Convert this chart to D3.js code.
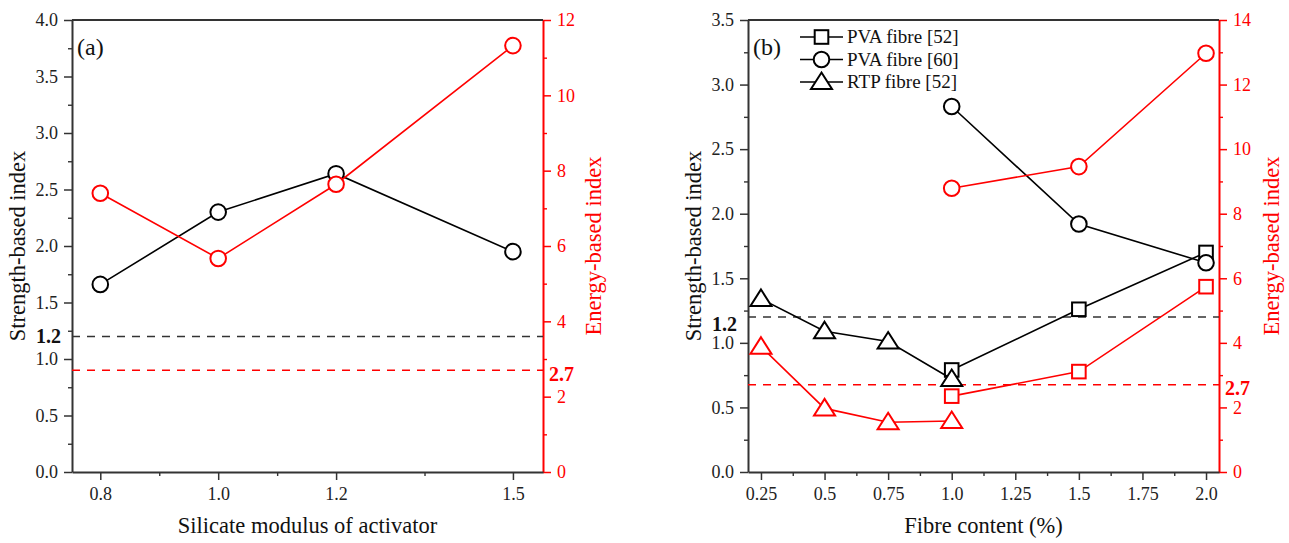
<!DOCTYPE html>
<html>
<head>
<meta charset="utf-8">
<script src="https://cdn.jsdelivr.net/npm/d3@7"></script>
<style>
  body { margin: 0; background: #fff; }
  svg text { font-family: "Liberation Serif", "Times New Roman", Times, serif; }
</style>
</head>
<body>
<svg id="chart" width="1289" height="543"></svg>
<script>
// panel (a): silicate modulus
const modulus = [0.8, 1.0, 1.2, 1.5];
const modStrength = [1.66, 2.30, 2.64, 1.95];
const modEnergy = [7.40, 5.67, 7.64, 11.32];

// panel (b): fibre content
const pva52Content = [1.0, 1.5, 2.0];
const pva52Strength = [0.79, 1.26, 1.70];
const pva52Energy = [2.35, 3.11, 5.74];

const pva60Content = [1.0, 1.5, 2.0];
const pva60Strength = [2.83, 1.92, 1.62];
const pva60Energy = [8.79, 9.46, 12.97];

const rtpContent = [0.25, 0.5, 0.75, 1.0];
const rtpStrength = [1.34, 1.09, 1.01, 0.72];
const rtpEnergy = [3.88, 1.97, 1.54, 1.58];

const legendNames = ['PVA fibre [52]', 'PVA fibre [60]', 'RTP fibre [52]'];
const strengthLimit = 1.2;
const energyLimit = 2.7;

const RED = '#ff0000';
const svg = d3.select('#chart');

// marker painter
function drawMarker(g, shape, x, y, color) {
  if (shape === 'circle') {
    g.append('circle').attr('cx', x).attr('cy', y).attr('r', 7.8)
      .attr('fill', '#fff').attr('stroke', color).attr('stroke-width', 2);
  } else if (shape === 'square') {
    g.append('rect').attr('x', x - 6.8).attr('y', y - 6.8).attr('width', 13.6).attr('height', 13.6)
      .attr('fill', '#fff').attr('stroke', color).attr('stroke-width', 2);
  } else {
    g.append('path').attr('d', `M${x},${y - 9.5}L${x + 10.5},${y + 7}L${x - 10.5},${y + 7}Z`)
      .attr('fill', '#fff').attr('stroke', color).attr('stroke-width', 2);
  }
}

function drawSeries(g, xs, ys, xScale, yScale, shape, color) {
  const line = d3.line().x((d, i) => xScale(xs[i])).y(d => yScale(d));
  g.append('path').datum(ys).attr('d', line)
    .attr('fill', 'none').attr('stroke', color).attr('stroke-width', 1.6);
  ys.forEach((v, i) => drawMarker(g, shape, xScale(xs[i]), yScale(v), color));
}

function drawPanel(p) {
  const g = svg.append('g');
  const x = d3.scaleLinear().domain(p.xDomain).range([p.left, p.right]);
  const yL = d3.scaleLinear().domain([0, p.yLMax]).range([p.bottom, p.top]);
  const yR = d3.scaleLinear().domain([0, p.yRMax]).range([p.bottom, p.top]);

  // minor ticks
  g.append('g').attr('transform', `translate(${p.left},0)`)
    .call(d3.axisLeft(yL).tickValues(d3.range(0.25, p.yLMax, 0.5)).tickSize(4).tickFormat(''))
    .call(a => a.select('.domain').remove())
    .call(a => a.selectAll('line').attr('stroke', '#333').attr('stroke-width', 1.4));
  g.append('g').attr('transform', `translate(${p.right},0)`)
    .call(d3.axisRight(yR).tickValues(d3.range(1, p.yRMax, 2)).tickSize(4).tickFormat(''))
    .call(a => a.select('.domain').remove())
    .call(a => a.selectAll('line').attr('stroke', RED).attr('stroke-width', 1.4));
  g.append('g').attr('transform', `translate(0,${p.bottom})`)
    .call(d3.axisBottom(x).tickValues(p.xMinor).tickSize(4).tickFormat(''))
    .call(a => a.select('.domain').remove())
    .call(a => a.selectAll('line').attr('stroke', '#333').attr('stroke-width', 1.4));

  // major axes
  const axL = g.append('g').attr('transform', `translate(${p.left},0)`)
    .call(d3.axisLeft(yL).tickValues(d3.range(0, p.yLMax + 0.01, 0.5)).tickSize(8).tickPadding(6)
      .tickSizeOuter(0).tickFormat(d3.format('.1f')));
  const axR = g.append('g').attr('transform', `translate(${p.right},0)`)
    .call(d3.axisRight(yR).tickValues(d3.range(0, p.yRMax + 0.01, 2)).tickSize(8).tickPadding(6)
      .tickSizeOuter(0).tickFormat(d3.format('d')));
  const axB = g.append('g').attr('transform', `translate(0,${p.bottom})`)
    .call(d3.axisBottom(x).tickValues(p.xTicks).tickSize(8).tickPadding(7)
      .tickSizeOuter(0).tickFormat((d, i) => p.xLabels[i]));

  [axL, axR, axB].forEach(a => {
    a.attr('font-family', null);
    a.selectAll('text').attr('font-size', 18);
    a.select('.domain').attr('stroke-width', 2);
    a.selectAll('line').attr('stroke-width', 1.5);
  });
  axL.selectAll('text').attr('fill', '#222');
  axB.selectAll('text').attr('fill', '#222');
  axL.selectAll('line, .domain').attr('stroke', '#333');
  axB.selectAll('line, .domain').attr('stroke', '#333');
  axR.selectAll('text').attr('fill', RED);
  axR.selectAll('line, .domain').attr('stroke', RED);

  // top frame
  g.append('line').attr('x1', p.left).attr('x2', p.right).attr('y1', p.top).attr('y2', p.top)
    .attr('stroke', '#333').attr('stroke-width', 1.8);

  // threshold lines
  g.append('line').attr('x1', p.left).attr('x2', p.right)
    .attr('y1', yL(strengthLimit)).attr('y2', yL(strengthLimit))
    .attr('stroke', '#333').attr('stroke-width', 1.5).attr('stroke-dasharray', '8,7');
  g.append('line').attr('x1', p.left).attr('x2', p.right)
    .attr('y1', yR(energyLimit)).attr('y2', yR(energyLimit))
    .attr('stroke', RED).attr('stroke-width', 1.5).attr('stroke-dasharray', '8,7');
  g.append('text').attr('x', p.left - 11).attr('y', yL(strengthLimit) + p.limOffsetL)
    .attr('text-anchor', 'end').attr('font-size', 20).attr('font-weight', 'bold')
    .attr('fill', '#111').text('1.2');
  g.append('text').attr('x', p.right + 6).attr('y', yR(energyLimit) + p.limOffsetR)
    .attr('font-size', 20).attr('font-weight', 'bold').attr('fill', RED).text('2.7');

  // series
  p.series.forEach(s => {
    drawSeries(g, s.xs, s.strength, x, yL, s.shape, '#000');
    drawSeries(g, s.xs, s.energy, x, yR, s.shape, RED);
  });

  // labels
  g.append('text').attr('x', p.left + 5).attr('y', p.top + 35)
    .attr('font-size', 24).attr('fill', '#111').text(p.tag);
  g.append('text').attr('transform', `translate(${p.left - 47},${(p.top + p.bottom) / 2}) rotate(-90)`)
    .attr('text-anchor', 'middle').attr('font-size', 22.5).attr('fill', '#111').text('Strength-based index');
  g.append('text').attr('transform', `translate(${p.right + p.rTitle},${(p.top + p.bottom) / 2}) rotate(-90)`)
    .attr('text-anchor', 'middle').attr('font-size', 22.5).attr('fill', RED).text('Energy-based index');
  g.append('text').attr('x', (p.left + p.right) / 2).attr('y', 533)
    .attr('text-anchor', 'middle').attr('font-size', 22.5).attr('fill', '#111').text(p.xTitle);
  return g;
}

drawPanel({
  left: 72, right: 543, top: 20, bottom: 472,
  xDomain: [0.752, 1.551], yLMax: 4, yRMax: 12,
  xTicks: modulus, xLabels: ['0.8', '1.0', '1.2', '1.5'], xMinor: [0.9, 1.1, 1.35],
  limOffsetL: 7, limOffsetR: 11, rTitle: 58, tag: '(a)', xTitle: 'Silicate modulus of activator',
  series: [{ xs: modulus, strength: modStrength, energy: modEnergy, shape: 'circle' }]
});

const panelB = drawPanel({
  left: 748, right: 1219, top: 20, bottom: 472,
  xDomain: [0.199, 2.051], yLMax: 3.5, yRMax: 14,
  xTicks: [0.25, 0.5, 0.75, 1.0, 1.25, 1.5, 1.75, 2.0],
  xLabels: ['0.25', '0.5', '0.75', '1.0', '1.25', '1.5', '1.75', '2.0'],
  xMinor: [0.375, 0.625, 0.875, 1.125, 1.375, 1.625, 1.875],
  limOffsetL: 14, limOffsetR: 10, rTitle: 60, tag: '(b)', xTitle: 'Fibre content (%)',
  series: [
    { xs: pva52Content, strength: pva52Strength, energy: pva52Energy, shape: 'square' },
    { xs: pva60Content, strength: pva60Strength, energy: pva60Energy, shape: 'circle' },
    { xs: rtpContent, strength: rtpStrength, energy: rtpEnergy, shape: 'triangle' }
  ]
});

// legend
const legendShapes = ['square', 'circle', 'triangle'];
legendNames.forEach((name, i) => {
  const ly = 37 + i * 22.5;
  panelB.append('line').attr('x1', 800).attr('x2', 843).attr('y1', ly).attr('y2', ly)
    .attr('stroke', '#000').attr('stroke-width', 1.6);
  drawMarker(panelB, legendShapes[i], 821.5, ly, '#000');
  panelB.append('text').attr('x', 847).attr('y', ly + 6)
    .attr('font-size', 19).attr('fill', '#111').text(name);
});
</script>
</body>
</html>
